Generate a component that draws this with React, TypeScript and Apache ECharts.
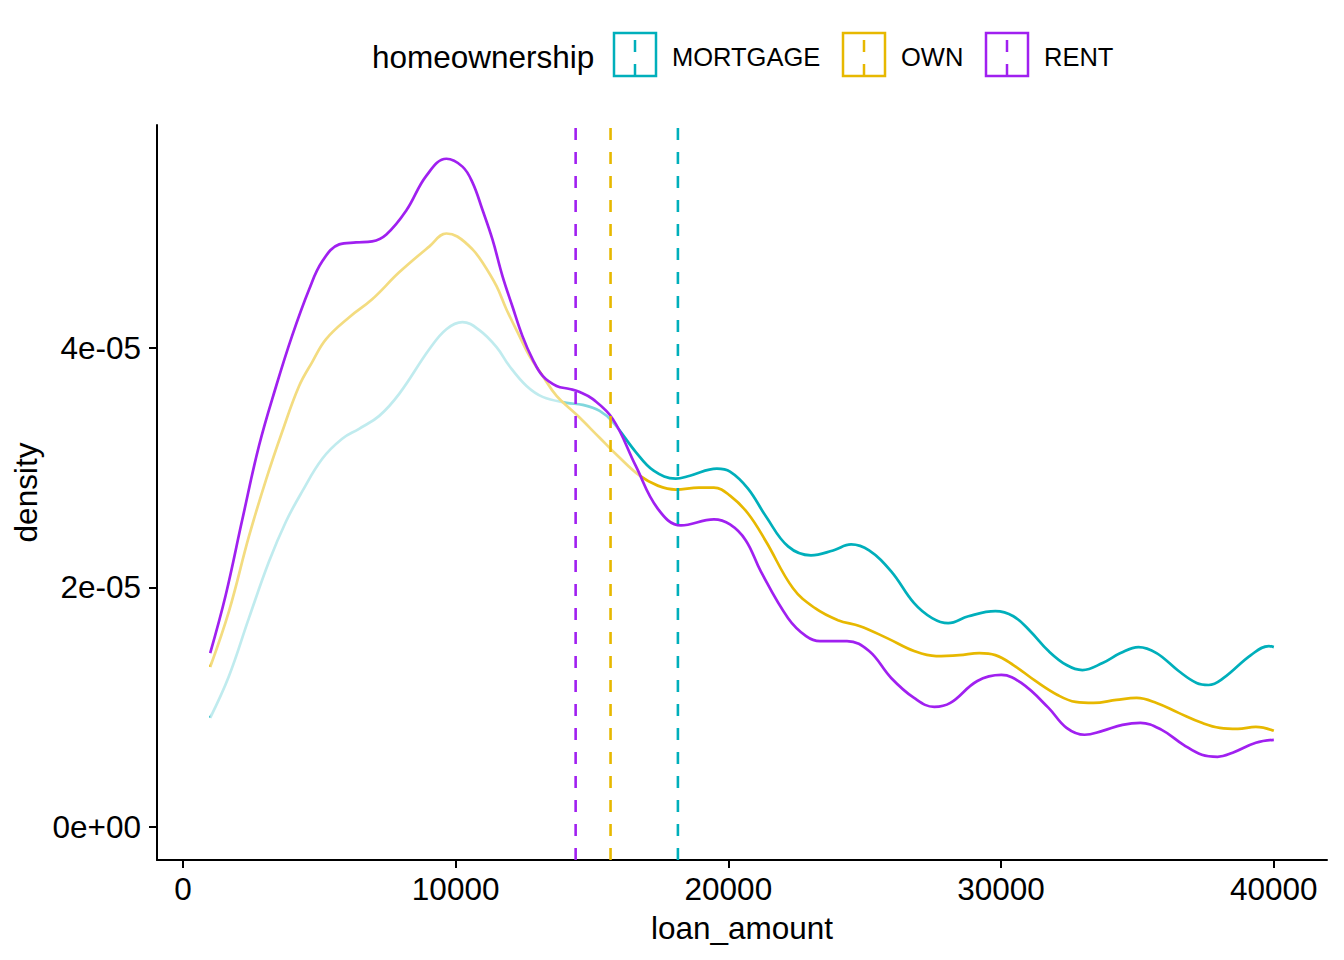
import React, { useEffect, useRef } from "react";
import * as echarts from "echarts";

// ---- data ----
const categories = ["MORTGAGE", "OWN", "RENT"];
const colors = ["#00AFBB", "#E7B800", "#A020F0"];

const mortgageX = [1000, 1690, 2420, 3160, 3780, 4370, 5110, 5840, 6460, 7200, 7930, 9040, 9660, 10250, 10870, 11500, 11970, 12600, 13190, 14070, 14660, 15280, 15760, 16600, 17260, 18070, 18590, 19580, 20060, 20720, 21380, 22190, 23030, 23840, 24500, 25160, 25970, 26810, 27470, 28060, 28800, 29790, 30450, 31070, 31740, 32400, 32980, 33720, 34380, 35040, 35700, 36510, 37170, 37610, 38160, 39160, 39820, 40000];
const mortgageY = [0.908e-5, 1.258e-5, 1.742e-5, 2.217e-5, 2.55e-5, 2.8e-5, 3.075e-5, 3.242e-5, 3.325e-5, 3.433e-5, 3.617e-5, 3.992e-5, 4.158e-5, 4.217e-5, 4.15e-5, 4.008e-5, 3.85e-5, 3.683e-5, 3.592e-5, 3.542e-5, 3.525e-5, 3.475e-5, 3.383e-5, 3.133e-5, 2.975e-5, 2.908e-5, 2.933e-5, 2.992e-5, 2.967e-5, 2.825e-5, 2.592e-5, 2.342e-5, 2.267e-5, 2.308e-5, 2.358e-5, 2.308e-5, 2.133e-5, 1.867e-5, 1.742e-5, 1.7e-5, 1.758e-5, 1.8e-5, 1.758e-5, 1.633e-5, 1.467e-5, 1.35e-5, 1.308e-5, 1.367e-5, 1.45e-5, 1.5e-5, 1.45e-5, 1.3e-5, 1.2e-5, 1.183e-5, 1.242e-5, 1.433e-5, 1.508e-5, 1.5e-5];

const ownX = [1000, 1690, 2420, 3050, 3640, 4260, 4740, 5250, 6100, 6940, 7930, 9040, 9660, 10060, 10620, 10980, 11500, 11860, 12340, 12710, 13190, 13700, 14440, 15280, 15940, 16750, 17410, 18070, 18920, 19470, 20060, 20720, 21380, 22370, 23180, 24020, 24830, 25820, 26810, 27620, 28470, 29200, 29790, 30450, 31260, 32070, 32730, 33390, 34230, 34970, 35700, 36510, 37360, 38020, 38680, 39340, 40000];
const ownY = [1.333e-5, 1.8e-5, 2.425e-5, 2.9e-5, 3.3e-5, 3.683e-5, 3.883e-5, 4.075e-5, 4.258e-5, 4.408e-5, 4.633e-5, 4.85e-5, 4.958e-5, 4.933e-5, 4.825e-5, 4.717e-5, 4.517e-5, 4.325e-5, 4.1e-5, 3.933e-5, 3.767e-5, 3.6e-5, 3.442e-5, 3.25e-5, 3.1e-5, 2.933e-5, 2.85e-5, 2.817e-5, 2.833e-5, 2.833e-5, 2.767e-5, 2.617e-5, 2.383e-5, 1.992e-5, 1.825e-5, 1.725e-5, 1.675e-5, 1.575e-5, 1.467e-5, 1.425e-5, 1.433e-5, 1.45e-5, 1.433e-5, 1.35e-5, 1.217e-5, 1.1e-5, 1.042e-5, 1.033e-5, 1.058e-5, 1.075e-5, 1.033e-5, 0.95e-5, 0.867e-5, 0.825e-5, 0.817e-5, 0.833e-5, 0.8e-5];

const rentX = [1000, 1570, 2170, 2790, 3420, 4000, 4630, 5110, 5730, 6350, 6940, 7460, 8190, 8930, 9660, 10250, 10620, 10980, 11350, 11720, 12080, 12450, 12820, 13190, 13700, 14180, 14550, 15020, 15760, 16600, 17410, 18260, 19470, 20060, 20640, 21190, 22190, 22850, 23360, 24350, 25160, 25970, 26810, 27550, 28140, 29130, 30010, 30740, 31740, 32400, 33060, 33720, 34450, 35110, 35890, 36690, 37360, 37940, 38490, 39340, 40000];
const rentY = [1.45e-5, 1.936e-5, 2.558e-5, 3.183e-5, 3.683e-5, 4.1e-5, 4.492e-5, 4.725e-5, 4.867e-5, 4.883e-5, 4.892e-5, 4.95e-5, 5.15e-5, 5.442e-5, 5.583e-5, 5.517e-5, 5.383e-5, 5.158e-5, 4.908e-5, 4.6e-5, 4.35e-5, 4.1e-5, 3.908e-5, 3.767e-5, 3.683e-5, 3.658e-5, 3.633e-5, 3.575e-5, 3.408e-5, 3.017e-5, 2.658e-5, 2.517e-5, 2.567e-5, 2.525e-5, 2.392e-5, 2.133e-5, 1.742e-5, 1.592e-5, 1.55e-5, 1.55e-5, 1.467e-5, 1.242e-5, 1.075e-5, 1.0e-5, 1.033e-5, 1.217e-5, 1.267e-5, 1.2e-5, 0.992e-5, 0.825e-5, 0.767e-5, 0.8e-5, 0.85e-5, 0.867e-5, 0.808e-5, 0.683e-5, 0.6e-5, 0.583e-5, 0.617e-5, 0.7e-5, 0.725e-5];

const groupMeans = [18150, 15680, 14400];

const xTicks = [0, 10000, 20000, 30000, 40000];
const xTickLabels = ["0", "10000", "20000", "30000", "40000"];
const yTicks = [0, 2e-5, 4e-5];
const yTickLabels = ["0e+00", "2e-05", "4e-05"];

const X_MIN = -950;
const X_MAX = 41950;
const Y_MIN = -2.8e-6;
const Y_MAX = 5.865e-5;

const FONT = "'Liberation Sans', Arial, Helvetica, sans-serif";

export default function App() {
  const ref = useRef<HTMLDivElement>(null);

  useEffect(() => {
    if (!ref.current) return;
    const chart = echarts.init(ref.current, undefined, { renderer: "svg" });

    const xs = [mortgageX, ownX, rentX];
    const ys = [mortgageY, ownY, rentY];

    // each group: semi-transparent white area under the curve, drawn in order,
    // so later groups veil the lines of earlier ones where they lie above them
    const densitySeries = categories.map((name, i) => ({
      type: "line",
      name,
      data: xs[i].map((x, k) => [x, ys[i][k]]),
      symbol: "none",
      showSymbol: false,
      smooth: 0.4,
      lineStyle: { color: colors[i], width: 2.7 },
      itemStyle: { color: colors[i] },
      areaStyle: { color: "#ffffff", opacity: 0.5, origin: 0 },
      z: 2 + i,
      silent: true,
    }));

    const meanSeries = categories.map((name, i) => ({
      type: "line",
      name: name + " mean",
      data: [
        [groupMeans[i], Y_MIN],
        [groupMeans[i], Y_MAX],
      ],
      symbol: "none",
      showSymbol: false,
      lineStyle: { color: colors[i], width: 2.6, type: [12, 12] },
      z: 10,
      silent: true,
    }));

    // legend (custom, ggplot style keys)
    const keyLeft = [614, 843, 986];
    const labelLeft = [672, 901, 1044];
    const keyTop = 33;
    const keyW = 42;
    const keyH = 43;
    const legendElems: any[] = [
      {
        type: "text",
        x: 372,
        y: 57,
        style: {
          text: "homeownership",
          fontSize: 31.5,
          fontFamily: FONT,
          fill: "#000",
          verticalAlign: "middle",
          textAlign: "left",
        },
      },
    ];
    categories.forEach((name, i) => {
      legendElems.push({
        type: "rect",
        shape: { x: keyLeft[i], y: keyTop, width: keyW, height: keyH },
        style: { fill: "#fff", stroke: colors[i], lineWidth: 2.5 },
      });
      legendElems.push({
        type: "line",
        shape: {
          x1: keyLeft[i] + keyW / 2,
          y1: keyTop + keyH,
          x2: keyLeft[i] + keyW / 2,
          y2: keyTop,
        },
        style: { stroke: colors[i], lineWidth: 2.5, lineDash: [12, 12] },
      });
      legendElems.push({
        type: "text",
        x: labelLeft[i],
        y: 57,
        style: {
          text: name,
          fontSize: 25.5,
          fontFamily: FONT,
          fill: "#000",
          verticalAlign: "middle",
          textAlign: "left",
        },
      });
    });

    chart.setOption({
      animation: false,
      backgroundColor: "#ffffff",
      textStyle: { fontFamily: FONT },
      grid: { left: 157, right: 17, top: 125, bottom: 100, containLabel: false },
      xAxis: {
        type: "value",
        min: X_MIN,
        max: X_MAX,
        name: "loan_amount",
        nameLocation: "middle",
        nameGap: 52,
        nameTextStyle: { fontSize: 31.5, color: "#000", fontFamily: FONT },
        axisLine: { show: true, onZero: false, lineStyle: { color: "#000", width: 2 } },
        axisTick: { show: true, length: 8, lineStyle: { color: "#000", width: 2 }, customValues: xTicks },
        axisLabel: {
          show: true,
          customValues: xTicks,
          margin: 13,
          fontSize: 31.5,
          color: "#000",
          fontFamily: FONT,
          formatter: (v: number) => {
            const k = xTicks.indexOf(v);
            return k >= 0 ? xTickLabels[k] : "";
          },
        },
        splitLine: { show: false },
      },
      yAxis: {
        type: "value",
        min: Y_MIN,
        max: Y_MAX,
        name: "density",
        nameLocation: "middle",
        nameRotate: 90,
        nameGap: 110,
        nameTextStyle: { fontSize: 31.5, color: "#000", fontFamily: FONT },
        axisLine: { show: true, onZero: false, lineStyle: { color: "#000", width: 2 } },
        axisTick: { show: true, length: 8, lineStyle: { color: "#000", width: 2 }, customValues: yTicks },
        axisLabel: {
          show: true,
          customValues: yTicks,
          margin: 16,
          fontSize: 31.5,
          color: "#000",
          fontFamily: FONT,
          formatter: (v: number) => {
            const k = yTicks.indexOf(v);
            return k >= 0 ? yTickLabels[k] : "";
          },
        },
        splitLine: { show: false },
      },
      series: [...densitySeries, ...meanSeries],
      graphic: legendElems,
    });

    return () => chart.dispose();
  }, []);

  return (
    <div
      ref={ref}
      style={{ position: "fixed", left: 0, top: 0, width: "1344px", height: "960px", background: "#fff" }}
    />
  );
}
